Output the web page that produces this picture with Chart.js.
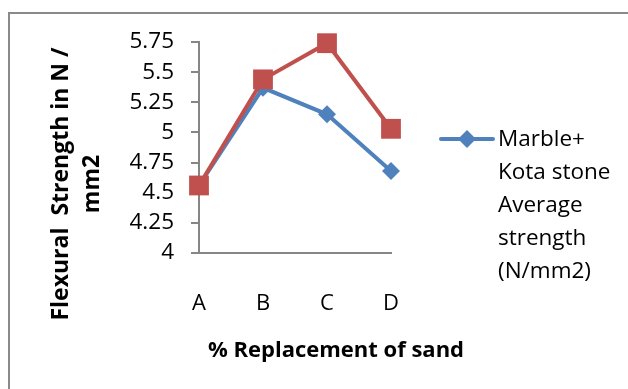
<!DOCTYPE html>
<html lang="en">
<head>
    <meta charset="UTF-8">
    <title>Flexural Strength</title>
    <script src="https://cdn.jsdelivr.net/npm/chart.js@4.4.0/dist/chart.umd.min.js"></script>
    <style>
        body { margin: 0; background: #fff; }
        #wrap { position: relative; width: 628px; height: 389px; overflow: hidden; font-family: 'Open Sans', sans-serif; color: #000; }
        /* chart frame, running off the right and bottom edges */
        .frame { position: absolute; left: 8px; top: 12px; width: 700px; height: 500px; border: 2px solid #8a8a8a; }
        #chart { position: absolute; left: 0; top: 0; }
        .ytitle {
            position: absolute; left: -85px; top: 153px; width: 320px; height: 62px;
            line-height: 31px; text-align: center; font-weight: bold; font-size: 23px;
            transform: rotate(-90deg); white-space: pre;
        }
        .xtitle {
            position: absolute; left: 136px; top: 333px; width: 400px;
            text-align: center; font-weight: bold; font-size: 22px; line-height: 30px;
        }
        .legend {
            position: absolute; left: 498px; top: 121px; font-size: 22.5px; line-height: 33px;
        }
    </style>
</head>
<body>
<div id="wrap">
    <div class="frame"></div>
    <canvas id="chart" width="628" height="389"></canvas>
    <div class="ytitle">Flexural  Strength in N /
mm2</div>
    <div class="xtitle">% Replacement of sand</div>
    <div class="legend">Marble+<br>Kota stone<br>Average<br>strength<br>(N/mm2)</div>
</div>

<script>
    // data
    const categories = ['A', 'B', 'C', 'D'];
    const marbleKota = [4.56, 5.37, 5.15, 4.68];   // blue, in legend
    const secondSeries = [4.56, 5.44, 5.74, 5.03]; // red, not in legend
    const yMin = 4, yMax = 5.75, yStep = 0.25;

    const blue = '#4F81BD';
    const red = '#C0504D';
    const axisGray = '#868686';

    // draws the legend swatch (line + diamond) next to the html legend text
    const legendSwatch = {
        id: 'legendSwatch',
        afterDraw(chart) {
            const ctx = chart.ctx;
            ctx.save();
            ctx.strokeStyle = blue;
            ctx.lineWidth = 4;
            ctx.lineCap = 'round';
            ctx.beginPath();
            ctx.moveTo(441, 139);
            ctx.lineTo(493, 139);
            ctx.stroke();
            ctx.fillStyle = blue;
            ctx.beginPath();
            ctx.moveTo(467, 130); ctx.lineTo(476, 139); ctx.lineTo(467, 148); ctx.lineTo(458, 139);
            ctx.closePath();
            ctx.fill();
            ctx.restore();
        }
    };

    new Chart(document.getElementById('chart'), {
        type: 'line',
        data: {
            labels: categories,
            datasets: [
                {
                    label: 'Series 2',
                    data: secondSeries,
                    borderColor: red,
                    backgroundColor: red,
                    borderWidth: 4,
                    pointStyle: 'rect',
                    pointRadius: 14,
                    pointBorderWidth: 0,
                    tension: 0,
                    clip: false
                },
                {
                    label: 'Marble+ Kota stone Average strength (N/mm2)',
                    data: marbleKota,
                    borderColor: blue,
                    backgroundColor: blue,
                    borderWidth: 4,
                    pointStyle: 'rectRot',
                    pointRadius: 9,
                    pointBorderWidth: 0,
                    tension: 0,
                    clip: false
                }
            ]
        },
        options: {
            responsive: false,
            animation: false,
            layout: { padding: { left: 0, right: 237, top: 42, bottom: 76 } },
            plugins: {
                legend: { display: false },
                tooltip: { enabled: false }
            },
            scales: {
                x: {
                    offset: false,
                    grid: { display: false },
                    border: { display: true, color: axisGray, width: 2 },
                    ticks: { color: '#000', padding: 30, font: { family: 'Open Sans', size: 22 } },
                    afterFit(scale) { scale.height = 60; }
                },
                y: {
                    min: yMin,
                    max: yMax,
                    ticks: {
                        stepSize: yStep,
                        color: '#000',
                        padding: 17,
                        font: { family: 'Open Sans', size: 22.5 },
                        callback: v => String(+v.toFixed(2))
                    },
                    grid: { drawOnChartArea: false, drawTicks: true, tickLength: 8, color: axisGray, lineWidth: 2 },
                    border: { display: true, color: axisGray, width: 2 },
                    afterFit(scale) { scale.width = 199; }
                }
            }
        },
        plugins: [legendSwatch]
    });
</script>
</body>
</html>
